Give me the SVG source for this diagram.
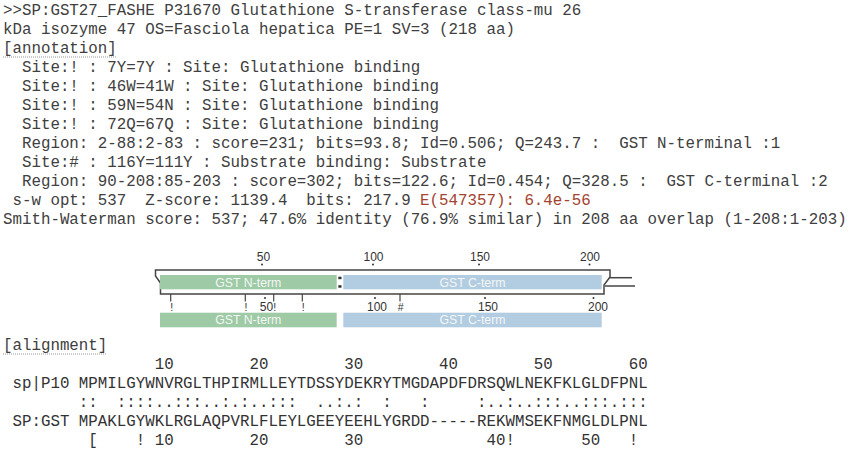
<svg xmlns="http://www.w3.org/2000/svg" width="850" height="453" viewBox="0 0 850 453">
<style>
.t{font-family:"Liberation Mono","Courier New",monospace;font-size:15.8px;fill:#404040;white-space:pre}
.a{font-family:"Liberation Mono","Courier New",monospace;font-size:15.8px;fill:#333;white-space:pre}
.ev{fill:#a3432f}
.ul{stroke:#999;stroke-width:1;stroke-dasharray:1 1}
.lab{font-family:"Liberation Sans",Arial,sans-serif;font-size:12.3px;fill:#f4f6f4;text-anchor:middle}
.num{font-family:"Liberation Sans",Arial,sans-serif;font-size:12px;fill:#333;text-anchor:middle}
.mk{font-family:"Liberation Sans",Arial,sans-serif;font-size:10.5px;fill:#333;text-anchor:middle}
.g{fill:#9ecba6}
.b{fill:#b2cde2}
.ln{stroke:#444;stroke-width:1.5;fill:none}
.tk{stroke:#444;stroke-width:1.2}
.dot{fill:#333}
</style>
<rect width="850" height="453" fill="#fff"/>
<g id="header">
<text class="t" x="3" y="15" xml:space="preserve">&gt;&gt;SP:GST27_FASHE P31670 Glutathione S-transferase class-mu 26</text>
<text class="t" x="3" y="34" xml:space="preserve">kDa isozyme 47 OS=Fasciola hepatica PE=1 SV=3 (218 aa)</text>
<text class="t" x="3" y="52.5" xml:space="preserve">[annotation]</text>
<line class="ul" x1="3" y1="57" x2="117" y2="57"/>
<text class="t" x="3" y="71.5" xml:space="preserve">  Site:! : 7Y=7Y : Site: Glutathione binding</text>
<text class="t" x="3" y="90.5" xml:space="preserve">  Site:! : 46W=41W : Site: Glutathione binding</text>
<text class="t" x="3" y="109.5" xml:space="preserve">  Site:! : 59N=54N : Site: Glutathione binding</text>
<text class="t" x="3" y="128.5" xml:space="preserve">  Site:! : 72Q=67Q : Site: Glutathione binding</text>
<text class="t" x="3" y="147.5" xml:space="preserve">  Region: 2-88:2-83 : score=231; bits=93.8; Id=0.506; Q=243.7 :  GST N-terminal :1</text>
<text class="t" x="3" y="166.5" xml:space="preserve">  Site:# : 116Y=111Y : Substrate binding: Substrate</text>
<text class="t" x="3" y="185.5" xml:space="preserve">  Region: 90-208:85-203 : score=302; bits=122.6; Id=0.454; Q=328.5 :  GST C-terminal :2</text>
<text class="t" x="3" y="204.5" xml:space="preserve"> s-w opt: 537  Z-score: 1139.4  bits: 217.9 <tspan class="ev">E(547357): 6.4e-56</tspan></text>
<text class="t" x="3" y="223.5" xml:space="preserve">Smith-Waterman score: 537; 47.6% identity (76.9% similar) in 208 aa overlap (1-208:1-203)</text>
</g>
<g id="connectors">
<path class="ln" d="M160.5,294 L160.5,283 L155.5,276 L155.5,270 L610,270 L610,277 L604,285 L604,294 Z"/>
<line class="ln" x1="610" y1="277.7" x2="632" y2="277.7"/>
<line class="ln" x1="605" y1="286" x2="635" y2="286"/>
<line class="tk" x1="170.7" y1="294" x2="170.7" y2="301.5"/>
<line class="tk" x1="245.3" y1="294" x2="245.3" y2="301.5"/>
<line class="tk" x1="273.7" y1="294" x2="273.7" y2="301.5"/>
<line class="tk" x1="302.3" y1="294" x2="302.3" y2="301.5"/>
<line class="tk" x1="400" y1="294" x2="400" y2="301.5"/>
</g>
<g id="ruler-top">
<text class="num" x="263.5" y="261">50</text>
<text class="num" x="373.5" y="261">100</text>
<text class="num" x="480" y="261">150</text>
<text class="num" x="590" y="261">200</text>
<circle class="dot" cx="262" cy="264.5" r="1"/>
<circle class="dot" cx="373" cy="264.5" r="1"/>
<circle class="dot" cx="479" cy="264.5" r="1"/>
<circle class="dot" cx="589.5" cy="264.5" r="1"/>
</g>
<g id="domain-n-top">
<rect class="g" x="160" y="275" width="176.7" height="14.3"/>
<text class="lab" x="248.3" y="286.6">GST N-term</text>
</g>
<g id="separator">
<rect x="338.3" y="276.7" width="3.2" height="2.5" fill="#333"/>
<rect x="338.3" y="285.2" width="3.2" height="2.5" fill="#333"/>
</g>
<g id="domain-c-top">
<rect class="b" x="343.3" y="275" width="258.4" height="14.3"/>
<text class="lab" x="472.5" y="286.6">GST C-term</text>
</g>
<g id="ruler-bottom">
<text class="mk" x="171.7" y="311">!</text>
<text class="mk" x="246" y="311">!</text>
<text class="mk" x="274.7" y="311">!</text>
<text class="mk" x="303.3" y="311">!</text>
<text class="mk" x="400.7" y="311">#</text>
<text class="num" x="266.5" y="311">50</text>
<text class="num" x="377" y="311">100</text>
<text class="num" x="488" y="311">150</text>
<text class="num" x="598" y="311">200</text>
<circle class="dot" cx="265" cy="298" r="1"/>
<circle class="dot" cx="375" cy="298" r="1"/>
<circle class="dot" cx="485" cy="298" r="1"/>
<circle class="dot" cx="593.5" cy="298" r="1"/>
</g>
<g id="domain-n-bottom">
<rect class="g" x="160" y="312.7" width="176.7" height="14.6"/>
<text class="lab" x="248.3" y="324.4">GST N-term</text>
</g>
<g id="domain-c-bottom">
<rect class="b" x="343.3" y="312.7" width="258.4" height="14.6"/>
<text class="lab" x="472.5" y="324.4">GST C-term</text>
</g>
<g id="alignment">
<text class="t" x="3" y="349.5" xml:space="preserve">[alignment]</text>
<line class="ul" x1="3" y1="354" x2="107" y2="354"/>
<text class="a" x="3" y="368.5" xml:space="preserve">                10        20        30        40        50        60</text>
<text class="a" x="3" y="388" xml:space="preserve"> sp|P10 MPMILGYWNVRGLTHPIRMLLEYTDSSYDEKRYTMGDAPDFDRSQWLNEKFKLGLDFPNL</text>
<text class="a" x="3" y="407" xml:space="preserve">        ::  ::::..:::..:.:..:::  ..:.:  :   :     :..:..:::..:::.:::</text>
<text class="a" x="3" y="426" xml:space="preserve"> SP:GST MPAKLGYWKLRGLAQPVRLFLEYLGEEYEEHLYGRDD-----REKWMSEKFNMGLDLPNL</text>
<text class="a" x="3" y="445" xml:space="preserve">         [    ! 10        20        30             40!       50   !</text>
</g>
</svg>
